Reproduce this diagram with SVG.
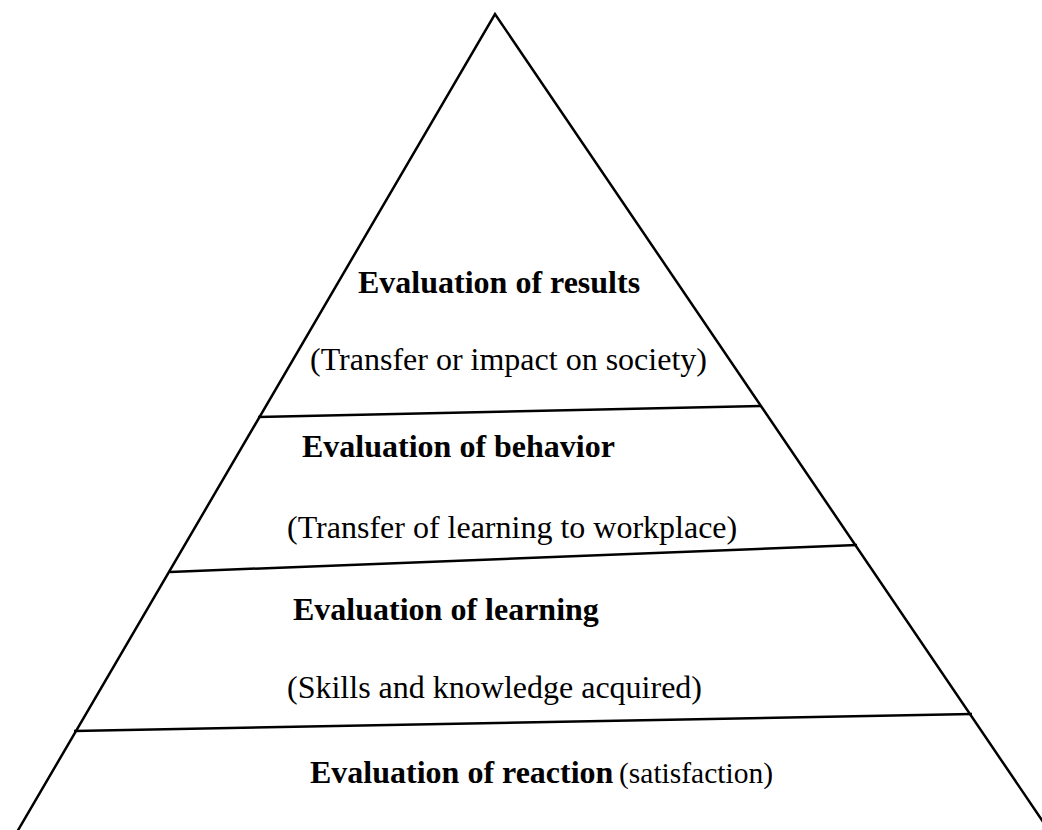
<svg xmlns="http://www.w3.org/2000/svg" width="1042" height="830" viewBox="0 0 1042 830">
<style>
.ln{stroke:#000;stroke-width:2.5;fill:none;stroke-linecap:butt}
.t{font-family:"Liberation Serif","Times New Roman",serif;font-size:32px;fill:#000}
.b{font-weight:bold}
.s{font-size:29.5px}
</style>
<rect width="1042" height="830" fill="#fff"/>
<g id="connectors">
<polyline class="ln" points="17,832 495,14 1050,832"/>
<line class="ln" x1="258" y1="417" x2="761" y2="406"/>
<line class="ln" x1="170" y1="572" x2="857" y2="545"/>
<line class="ln" x1="74" y1="731" x2="972" y2="714"/>
</g>
<g id="results">
<text class="t b" x="358" y="293">Evaluation of results</text>
<text class="t" x="310" y="370">(Transfer or impact on society)</text>
</g>
<g id="behavior">
<text class="t b" x="302" y="457">Evaluation of behavior</text>
<text class="t" x="287" y="538">(Transfer of learning to workplace)</text>
</g>
<g id="learning">
<text class="t b" x="293" y="620">Evaluation of learning</text>
<text class="t" x="287" y="698">(Skills and knowledge acquired)</text>
</g>
<g id="reaction">
<text class="t b" x="310" y="783">Evaluation of reaction</text>
<text class="t s" x="619" y="783">(satisfaction)</text>
</g>
</svg>
